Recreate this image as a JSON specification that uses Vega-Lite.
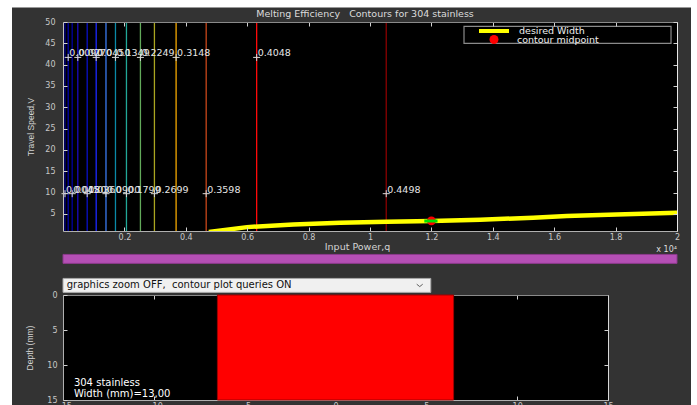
{
  "$schema": "https://vega.github.io/schema/vega-lite/v6.json",
  "background": "white",
  "padding": {"left": 12, "top": 7, "right": 6, "bottom": 0},
  "bounds": "flush",
  "spacing": 0,
  "datasets": {
    "contours": [
      {"q": 65, "level": 0.0045}, {"q": 169, "level": 0.009}, {"q": 299, "level": 0.018},
      {"q": 482, "level": 0.027}, {"q": 788, "level": 0.036}, {"q": 1081, "level": 0.045},
      {"q": 1400, "level": 0.09}, {"q": 1709, "level": 0.1349}, {"q": 2067, "level": 0.1799},
      {"q": 2522, "level": 0.2249}, {"q": 2978, "level": 0.2699}, {"q": 3684, "level": 0.3148},
      {"q": 4664, "level": 0.3598}, {"q": 6308, "level": 0.4048}, {"q": 10529, "level": 0.4498}
    ],
    "contourLabels": [
      {"q": 65, "v": 9.75, "level": 0.0045}, {"q": 169, "v": 41.7, "level": 0.009},
      {"q": 299, "v": 9.75, "level": 0.018}, {"q": 482, "v": 41.7, "level": 0.027},
      {"q": 788, "v": 9.75, "level": 0.036}, {"q": 1081, "v": 41.7, "level": 0.045},
      {"q": 1400, "v": 9.75, "level": 0.09}, {"q": 1709, "v": 41.7, "level": 0.1349},
      {"q": 2067, "v": 9.75, "level": 0.1799}, {"q": 2522, "v": 41.7, "level": 0.2249},
      {"q": 2978, "v": 9.75, "level": 0.2699}, {"q": 3684, "v": 41.7, "level": 0.3148},
      {"q": 4664, "v": 9.75, "level": 0.3598}, {"q": 6308, "v": 41.7, "level": 0.4048},
      {"q": 10529, "v": 9.75, "level": 0.4498}
    ],
    "desiredWidth": [
      {"q": 4750, "v": 0.75}, {"q": 5995, "v": 1.91}, {"q": 7502, "v": 2.55},
      {"q": 9032, "v": 2.95}, {"q": 10552, "v": 3.18}, {"q": 12003, "v": 3.32},
      {"q": 13588, "v": 3.65}, {"q": 15313, "v": 4.12}, {"q": 16410, "v": 4.5},
      {"q": 18038, "v": 4.89}, {"q": 20000, "v": 5.29}
    ],
    "selectedSegment": [{"q": 11770, "v": 3.33}, {"q": 12200, "v": 3.36}],
    "midpoint": [{"q": 12000, "v": 3.38}],
    "bead": [{"left": -6.5, "right": 6.5, "top": 0, "bottom": 15}],
    "notes": [
      {"x": -14.4, "y": 12.6, "note": "304 stainless"},
      {"x": -14.4, "y": 14.2, "note": "Width (mm)=13,00"}
    ]
  },
  "config": {
    "font": "DejaVu Sans",
    "view": {"stroke": null},
    "axis": {
      "grid": false, "labelFont": "DejaVu Sans", "labelFontSize": 8,
      "labelColor": "#c8c8c8", "tickColor": "#d0d0d0", "tickSize": -4, "tickWidth": 1,
      "domainColor": "#b0b0b0", "domainWidth": 1, "labelFlush": false,
      "titleFont": "Liberation Sans", "titleFontSize": 8.5, "titleFontWeight": "normal",
      "titleColor": "#d4d4d4"
    },
    "legend": {"labelFont": "DejaVu Sans", "labelFontSize": 9.5, "labelColor": "#f0f0f0", "padding": 0},
    "title": {"font": "DejaVu Sans", "fontSize": 9.5, "fontWeight": "normal", "color": "#dcdcdc"}
  },
  "vconcat": [
    {
      "width": 614,
      "height": 209,
      "title": {"text": "Melting Efficiency\u00a0\u00a0 Contours for 304 stainless", "offset": -11, "frame": "group", "dx": -5},
      "resolve": {"axis": {"x": "independent", "y": "independent"}},
      "layer": [
        {
          "data": {"values": [{}]},
          "mark": {"type": "rect", "fill": "#333333", "clip": false},
          "encoding": {
            "x": {"datum": -1661, "type": "quantitative", "scale": {"domain": [0, 20000], "nice": false, "zero": false}, "axis": null},
            "x2": {"datum": 20456},
            "y": {"datum": 53.42, "type": "quantitative", "scale": {"domain": [1, 50], "nice": false, "zero": false}, "axis": null},
            "y2": {"datum": -41.5}
          }
        },
        {
          "data": {"values": [{}]},
          "mark": {"type": "rect", "fill": "black"},
          "encoding": {
            "x": {"datum": 0, "type": "quantitative", "scale": {"domain": [0, 20000], "nice": false, "zero": false}, "axis": null},
            "x2": {"datum": 20000},
            "y": {"datum": 1, "type": "quantitative", "scale": {"domain": [1, 50], "nice": false, "zero": false}, "axis": null},
            "y2": {"datum": 50}
          }
        },
        {
          "data": {"values": [{}]},
          "mark": {"type": "rect", "fill": "black", "stroke": "#8a8a8a", "strokeWidth": 1.2},
          "encoding": {
            "x": {"datum": 13062, "type": "quantitative", "scale": {"domain": [0, 20000], "nice": false, "zero": false}, "axis": null},
            "x2": {"datum": 19805},
            "y": {"datum": 45.0, "type": "quantitative", "scale": {"domain": [1, 50], "nice": false, "zero": false}, "axis": null},
            "y2": {"datum": 48.99}
          }
        },
        {
          "data": {"name": "contours"},
          "mark": {"type": "rule", "strokeWidth": 1.3},
          "encoding": {
            "x": {
              "field": "q", "type": "quantitative",
              "scale": {"domain": [0, 20000], "nice": false, "zero": false},
              "axis": {
                "orient": "bottom", "zindex": 1,
                "values": [2000, 4000, 6000, 8000, 10000, 12000, 14000, 16000, 18000, 20000],
                "labelExpr": "format(datum.value / 10000, '')",
                "labelPadding": 6,
                "title": "Input Power,q",
                "titleFont": "DejaVu Sans", "titleFontSize": 9.5,
                "titleX": 294, "titleY": 15, "titleBaseline": "middle", "titleAlign": "center"
              }
            },
            "color": {
              "field": "level", "type": "ordinal",
              "scale": {
                "domain": [0.0045, 0.009, 0.018, 0.027, 0.036, 0.045, 0.09, 0.1349, 0.1799, 0.2249, 0.2699, 0.3148, 0.3598, 0.4048, 0.4498],
                "range": ["#00008c", "#0000b0", "#0000a0", "#1a0ac0", "#0a10c8", "#1c28ff", "#3a7af0", "#0a8aa8", "#22a898", "#62aa5a", "#aaa620", "#f5a800", "#c8461a", "#ff0a0a", "#8a0000"]
              },
              "legend": null
            }
          }
        },
        {
          "data": {"name": "contourLabels"},
          "mark": {"type": "point", "shape": "M-1,0L1,0M0,-1L0,1", "size": 49, "filled": false, "stroke": "#d8d8d8", "strokeWidth": 1, "opacity": 1},
          "encoding": {
            "x": {
              "field": "q", "type": "quantitative",
              "scale": {"domain": [0, 20000], "nice": false, "zero": false},
              "axis": {
                "orient": "top", "zindex": 1, "labels": false, "title": null, "domainColor": "#8a8a8a",
                "values": [2000, 4000, 6000, 8000, 10000, 12000, 14000, 16000, 18000, 20000]
              }
            },
            "y": {
              "field": "v", "type": "quantitative",
              "scale": {"domain": [1, 50], "nice": false, "zero": false},
              "axis": {
                "orient": "left", "zindex": 1, "values": [5, 10, 15, 20, 25, 30, 35, 40, 45, 50],
                "labelPadding": 12, "domainColor": "#c0c0c0",
                "title": "Travel Speed,V",
                "titleX": -33, "titleY": 104.5, "titleAngle": -90,
                "titleBaseline": "middle", "titleAlign": "center"
              }
            }
          }
        },
        {
          "data": {"name": "contourLabels"},
          "mark": {"type": "text", "align": "left", "baseline": "middle", "dx": 1, "dy": -4, "fontSize": 9.5, "color": "#e6e6e6"},
          "encoding": {
            "x": {"field": "q", "type": "quantitative", "scale": {"domain": [0, 20000], "nice": false, "zero": false}, "axis": null},
            "y": {
              "field": "v", "type": "quantitative",
              "scale": {"domain": [1, 50], "nice": false, "zero": false},
              "axis": {
                "orient": "right", "zindex": 1, "labels": false, "title": null, "domainColor": "#e8e8e8",
                "values": [5, 10, 15, 20, 25, 30, 35, 40, 45, 50]
              }
            },
            "text": {"field": "level", "type": "quantitative", "format": ".4f"}
          }
        },
        {
          "data": {"name": "desiredWidth"},
          "mark": {"type": "line", "strokeWidth": 4.5, "clip": true},
          "encoding": {
            "x": {"field": "q", "type": "quantitative", "scale": {"domain": [0, 20000], "nice": false, "zero": false}, "axis": null},
            "y": {"field": "v", "type": "quantitative", "scale": {"domain": [1, 50], "nice": false, "zero": false}, "axis": null},
            "stroke": {
              "datum": "desired Width", "type": "nominal",
              "scale": {"domain": ["desired Width"], "range": ["#ffff00"]},
              "legend": {
                "orient": "none", "legendX": 414, "legendY": -8, "title": null,
                "symbolType": "stroke", "symbolSize": 900, "symbolStrokeWidth": 4, "labelOffset": 8
              }
            }
          }
        },
        {
          "data": {"name": "midpoint"},
          "mark": {"type": "point", "shape": "circle", "filled": true, "size": 80, "opacity": 1},
          "encoding": {
            "x": {"field": "q", "type": "quantitative", "scale": {"domain": [0, 20000], "nice": false, "zero": false}, "axis": null},
            "y": {"field": "v", "type": "quantitative", "scale": {"domain": [1, 50], "nice": false, "zero": false}, "axis": null},
            "fill": {
              "datum": "contour midpoint", "type": "nominal",
              "scale": {"domain": ["contour midpoint"], "range": ["#ff0000"]},
              "legend": {
                "orient": "none", "legendX": 425.5, "legendY": 12, "title": null,
                "symbolType": "circle", "symbolSize": 81, "labelOffset": 17.5
              }
            }
          }
        },
        {
          "data": {"name": "selectedSegment"},
          "mark": {"type": "line", "stroke": "#00e000", "strokeWidth": 3},
          "encoding": {
            "x": {"field": "q", "type": "quantitative", "scale": {"domain": [0, 20000], "nice": false, "zero": false}, "axis": null},
            "y": {"field": "v", "type": "quantitative", "scale": {"domain": [1, 50], "nice": false, "zero": false}, "axis": null}
          }
        },
        {
          "data": {"values": [{}]},
          "mark": {"type": "text", "text": "x 10⁴", "align": "right", "baseline": "middle", "dy": 19, "fontSize": 8, "color": "#dddddd"},
          "encoding": {
            "x": {"datum": 20000, "type": "quantitative", "scale": {"domain": [0, 20000], "nice": false, "zero": false}, "axis": null},
            "y": {"datum": 1, "type": "quantitative", "scale": {"domain": [1, 50], "nice": false, "zero": false}, "axis": null}
          }
        }
      ]
    },
    {
      "width": 614,
      "height": 64,
      "layer": [
        {
          "data": {"values": [{}]},
          "mark": {"type": "rect", "fill": "#b54fb5", "stroke": "#8c3a8c", "strokeWidth": 1},
          "encoding": {
            "x": {"datum": 0, "type": "quantitative", "scale": {"domain": [0, 1], "nice": false, "zero": false}, "axis": null},
            "x2": {"datum": 1},
            "y": {"datum": 0.366, "type": "quantitative", "scale": {"domain": [0, 1], "nice": false, "zero": false, "reverse": true}, "axis": null},
            "y2": {"datum": 0.506}
          }
        },
        {
          "data": {"values": [{}]},
          "mark": {"type": "rect", "fill": "#f0f0f0", "stroke": "#a8a8a8", "strokeWidth": 1},
          "encoding": {
            "x": {"datum": 0, "type": "quantitative", "scale": {"domain": [0, 1], "nice": false, "zero": false}, "axis": null},
            "x2": {"datum": 0.599},
            "y": {"datum": 0.741, "type": "quantitative", "scale": {"domain": [0, 1], "nice": false, "zero": false, "reverse": true}, "axis": null},
            "y2": {"datum": 0.959}
          }
        },
        {
          "data": {"values": [{}]},
          "mark": {"type": "text", "text": "graphics zoom OFF,\u00a0 contour plot queries ON", "align": "left", "baseline": "middle", "fontSize": 10, "color": "#111111"},
          "encoding": {
            "x": {"datum": 0.006, "type": "quantitative", "scale": {"domain": [0, 1], "nice": false, "zero": false}, "axis": null},
            "y": {"datum": 0.85, "type": "quantitative", "scale": {"domain": [0, 1], "nice": false, "zero": false, "reverse": true}, "axis": null}
          }
        },
        {
          "data": {"values": [{}]},
          "mark": {"type": "point", "shape": "M-1,-0.4L0,0.4L1,-0.4", "size": 36, "filled": false, "stroke": "#606060", "strokeWidth": 1, "opacity": 1},
          "encoding": {
            "x": {"datum": 0.581, "type": "quantitative", "scale": {"domain": [0, 1], "nice": false, "zero": false}, "axis": null},
            "y": {"datum": 0.85, "type": "quantitative", "scale": {"domain": [0, 1], "nice": false, "zero": false, "reverse": true}, "axis": null}
          }
        }
      ]
    },
    {
      "width": 545,
      "height": 105,
      "view": {"stroke": null, "fill": "black"},
      "resolve": {"axis": {"x": "independent", "y": "independent"}},
      "layer": [
        {
          "data": {"name": "bead"},
          "mark": {"type": "rect", "fill": "#ff0000", "stroke": "#a00000", "strokeWidth": 1},
          "encoding": {
            "x": {
              "field": "left", "type": "quantitative",
              "scale": {"domain": [-15, 15], "nice": false, "zero": false},
              "axis": {"orient": "bottom", "values": [-15, -10, -5, 0, 5, 10, 15], "labelPadding": 6, "title": null, "zindex": 0}
            },
            "x2": {"field": "right"},
            "y": {
              "field": "top", "type": "quantitative",
              "scale": {"domain": [0, 15], "nice": false, "zero": false, "reverse": true},
              "axis": {
                "orient": "left", "values": [0, 5, 10, 15], "labelPadding": 10, "zindex": 0,
                "title": "Depth (mm)", "titleX": -34, "titleY": 52.5, "titleAngle": -90,
                "titleBaseline": "middle", "titleAlign": "center"
              }
            },
            "y2": {"field": "bottom"}
          }
        },
        {
          "data": {"name": "notes"},
          "mark": {"type": "text", "align": "left", "baseline": "middle", "fontSize": 10, "color": "#ffffff"},
          "encoding": {
            "x": {
              "field": "x", "type": "quantitative",
              "scale": {"domain": [-15, 15], "nice": false, "zero": false},
              "axis": {"orient": "top", "labels": false, "title": null, "zindex": 0, "domainColor": "#8a8a8a", "values": [-15, -10, -5, 0, 5, 10, 15]}
            },
            "y": {
              "field": "y", "type": "quantitative",
              "scale": {"domain": [0, 15], "nice": false, "zero": false, "reverse": true},
              "axis": {"orient": "right", "labels": false, "title": null, "zindex": 0, "domainColor": "#d8d8d8", "values": [5, 10]}
            },
            "text": {"field": "note"}
          }
        }
      ]
    }
  ]
}
